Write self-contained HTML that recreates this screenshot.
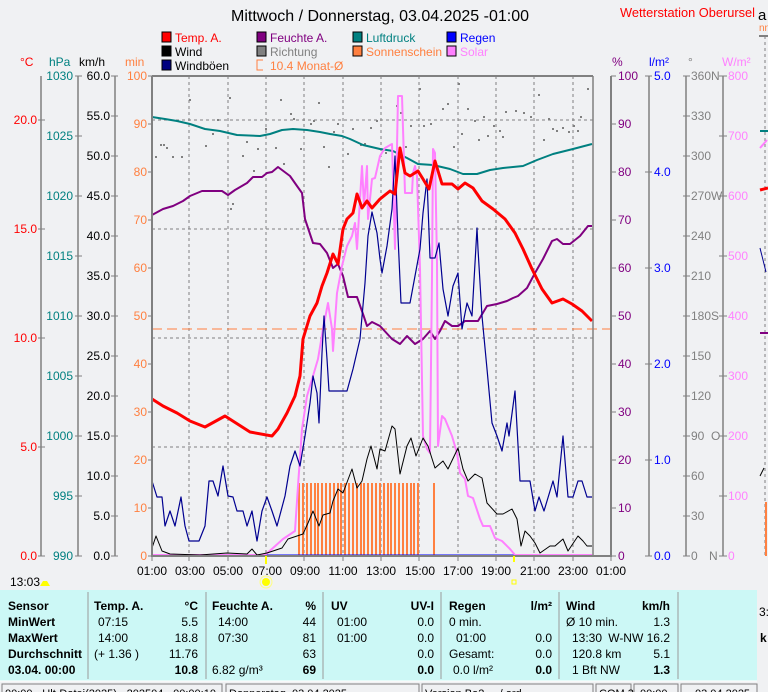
<!DOCTYPE html>
<html><head><meta charset="utf-8">
<style>
html,body{margin:0;padding:0;background:#f0f1f3;}
svg{display:block;font-family:"Liberation Sans",Arial,sans-serif;}
</style></head>
<body>
<svg width="768" height="692" viewBox="0 0 768 692" xmlns="http://www.w3.org/2000/svg">
<rect x="0" y="0" width="768" height="692" fill="#f0f1f3"/>

<!-- title -->
<text x="231" y="21" font-size="16" fill="#000" textLength="298" lengthAdjust="spacingAndGlyphs">Mittwoch / Donnerstag, 03.04.2025  -01:00</text>
<text x="620" y="17" font-size="13" fill="#ff0000" textLength="135" lengthAdjust="spacingAndGlyphs">Wetterstation Oberursel</text>
<text x="758" y="20" font-size="15" fill="#000">a</text>

<!-- legend -->
<g font-size="12">
<rect x="162" y="32" width="9" height="10" fill="#ff0000" stroke="#000"/><text x="175" y="42" fill="#ff0000">Temp. A.</text>
<rect x="257" y="32" width="9" height="10" fill="#800080" stroke="#000"/><text x="270" y="42" fill="#800080">Feuchte A.</text>
<rect x="353" y="32" width="9" height="10" fill="#008080" stroke="#000"/><text x="366" y="42" fill="#008080">Luftdruck</text>
<rect x="447" y="32" width="9" height="10" fill="#0000ff" stroke="#000"/><text x="460" y="42" fill="#0000ff">Regen</text>
<rect x="162" y="46" width="9" height="10" fill="#000" stroke="#000"/><text x="175" y="56" fill="#000">Wind</text>
<rect x="257" y="46" width="9" height="10" fill="#808080" stroke="#000"/><text x="270" y="56" fill="#808080">Richtung</text>
<rect x="353" y="46" width="9" height="10" fill="#ff8040" stroke="#000"/><text x="366" y="56" fill="#ff8040">Sonnenschein</text>
<rect x="447" y="46" width="9" height="10" fill="#ff80ff" stroke="#000"/><text x="460" y="56" fill="#ff80ff">Solar</text>
<rect x="162" y="60" width="9" height="10" fill="#000080" stroke="#000"/><text x="175" y="70" fill="#000">Windböen</text>
<path d="M263 60 H257 V70 H263" fill="none" stroke="#ff8040"/><text x="270" y="70" fill="#ff8040">10.4 Monat-Ø</text>
</g>

<!-- axis headers -->
<g font-size="12">
<text x="20" y="66" fill="#ff0000">°C</text>
<text x="49" y="66" fill="#008080">hPa</text>
<text x="79" y="66" fill="#000">km/h</text>
<text x="125" y="66" fill="#ff8040">min</text>
<text x="612" y="66" fill="#800080">%</text>
<text x="649" y="66" fill="#0000ff">l/m²</text>
<text x="688" y="66" fill="#808080">°</text>
<text x="722" y="66" fill="#ff80ff">W/m²</text>
</g>

<!-- left axes lines -->
<g stroke="#808080" stroke-width="1.5">
<line x1="41" y1="76" x2="41" y2="556"/>
<line x1="78" y1="76" x2="78" y2="556"/>
<line x1="115" y1="76" x2="115" y2="556"/>
<line x1="649" y1="76" x2="649" y2="556"/>
<line x1="686" y1="76" x2="686" y2="556"/>
<line x1="723" y1="76" x2="723" y2="556"/>
</g>
<!-- left ticks -->
<g stroke="#808080" stroke-width="1">
<path d="M38 120H45M38 229H45M38 338H45M38 447H45M38 556H45"/>
<path d="M75 76H82M75 136H82M75 196H82M75 256H82M75 316H82M75 376H82M75 436H82M75 496H82M75 556H82"/>
<path d="M111 76H118M111 116H118M111 156H118M111 196H118M111 236H118M111 276H118M111 316H118M111 356H118M111 396H118M111 436H118M111 476H118M111 516H118M111 556H118"/>
<path d="M148 76H152M148 124H152M148 172H152M148 220H152M148 268H152M148 316H152M148 364H152M148 412H152M148 460H152M148 508H152M148 556H152"/>
<path d="M611 76H616M611 124H616M611 172H616M611 220H616M611 268H616M611 316H616M611 364H616M611 412H616M611 460H616M611 508H616M611 556H616"/>
<path d="M645 76H652M645 172H652M645 268H652M645 364H652M645 460H652M645 556H652"/>
<path d="M683 76H690M683 116H690M683 156H690M683 196H690M683 236H690M683 276H690M683 316H690M683 356H690M683 396H690M683 436H690M683 476H690M683 516H690M683 556H690"/>
<path d="M719 76H727M719 136H727M719 196H727M719 256H727M719 316H727M719 376H727M719 436H727M719 496H727M719 556H727"/>
</g>
<!-- left labels -->
<g font-size="12" text-anchor="end">
<g fill="#ff0000"><text x="37" y="124">20.0</text><text x="37" y="233">15.0</text><text x="37" y="342">10.0</text><text x="37" y="451">5.0</text><text x="37" y="560">0.0</text></g>
<g fill="#008080"><text x="73" y="80">1030</text><text x="73" y="140">1025</text><text x="73" y="200">1020</text><text x="73" y="260">1015</text><text x="73" y="320">1010</text><text x="73" y="380">1005</text><text x="73" y="440">1000</text><text x="73" y="500">995</text><text x="73" y="560">990</text></g>
<g fill="#000"><text x="110" y="80">60.0</text><text x="110" y="120">55.0</text><text x="110" y="160">50.0</text><text x="110" y="200">45.0</text><text x="110" y="240">40.0</text><text x="110" y="280">35.0</text><text x="110" y="320">30.0</text><text x="110" y="360">25.0</text><text x="110" y="400">20.0</text><text x="110" y="440">15.0</text><text x="110" y="480">10.0</text><text x="110" y="520">5.0</text><text x="110" y="560">0.0</text></g>
<g fill="#ff8040"><text x="147" y="80">100</text><text x="147" y="128">90</text><text x="147" y="176">80</text><text x="147" y="224">70</text><text x="147" y="272">60</text><text x="147" y="320">50</text><text x="147" y="368">40</text><text x="147" y="416">30</text><text x="147" y="464">20</text><text x="147" y="512">10</text><text x="147" y="560">0</text></g>
</g>
<!-- right labels -->
<g font-size="12">
<g fill="#800080"><text x="618" y="80">100</text><text x="618" y="128">90</text><text x="618" y="176">80</text><text x="618" y="224">70</text><text x="618" y="272">60</text><text x="618" y="320">50</text><text x="618" y="368">40</text><text x="618" y="416">30</text><text x="618" y="464">20</text><text x="618" y="512">10</text><text x="618" y="560">0</text></g>
<g fill="#0000ff"><text x="654" y="80">5.0</text><text x="654" y="176">4.0</text><text x="654" y="272">3.0</text><text x="654" y="368">2.0</text><text x="654" y="464">1.0</text><text x="654" y="560">0.0</text></g>
<g fill="#808080"><text x="691" y="80">360</text><text x="691" y="120">330</text><text x="691" y="160">300</text><text x="691" y="200">270</text><text x="691" y="240">240</text><text x="691" y="280">210</text><text x="691" y="320">180</text><text x="691" y="360">150</text><text x="691" y="400">120</text><text x="691" y="440">90</text><text x="691" y="480">60</text><text x="691" y="520">30</text><text x="691" y="560">0</text>
<text x="711" y="80">N</text><text x="711" y="200">W</text><text x="711" y="320">S</text><text x="711" y="440">O</text><text x="709" y="560">N</text></g>
<g fill="#ff80ff"><text x="728" y="80">800</text><text x="728" y="140">700</text><text x="728" y="200">600</text><text x="728" y="260">500</text><text x="728" y="320">400</text><text x="728" y="380">300</text><text x="728" y="440">200</text><text x="728" y="500">100</text><text x="728" y="560">0</text></g>
</g>

<!-- grid -->
<g stroke="#808080" stroke-width="1" stroke-dasharray="3,3">
<path d="M189 76V556M228 76V556M266 76V556M304 76V556M343 76V556M381 76V556M419 76V556M458 76V556M496 76V556M534 76V556M573 76V556"/>
<path d="M152 120H593M152 229H593M152 338H593M152 447H593"/>
</g>
<line x1="152" y1="329" x2="611" y2="329" stroke="#ff8040" stroke-width="1" stroke-dasharray="10,5"/>

<!-- sunshine bars -->
<g fill="#ff8040">
<rect x="298" y="483" width="2" height="73"/><rect x="302" y="483" width="2" height="73"/><rect x="306" y="483" width="2" height="73"/><rect x="310" y="483" width="2" height="73"/><rect x="314" y="483" width="2" height="73"/><rect x="317" y="483" width="2" height="73"/><rect x="321" y="483" width="2" height="73"/><rect x="325" y="483" width="2" height="73"/><rect x="329" y="483" width="2" height="73"/><rect x="333" y="483" width="2" height="73"/><rect x="337" y="483" width="2" height="73"/><rect x="340" y="483" width="2" height="73"/><rect x="344" y="483" width="2" height="73"/><rect x="348" y="483" width="2" height="73"/><rect x="352" y="483" width="2" height="73"/><rect x="356" y="483" width="2" height="73"/><rect x="360" y="483" width="2" height="73"/><rect x="363" y="483" width="2" height="73"/><rect x="367" y="483" width="2" height="73"/><rect x="371" y="483" width="2" height="73"/><rect x="375" y="483" width="2" height="73"/><rect x="379" y="483" width="2" height="73"/><rect x="383" y="483" width="2" height="73"/><rect x="387" y="483" width="2" height="73"/><rect x="390" y="483" width="2" height="73"/><rect x="394" y="483" width="2" height="73"/><rect x="398" y="483" width="2" height="73"/><rect x="402" y="483" width="2" height="73"/><rect x="406" y="483" width="2" height="73"/><rect x="410" y="483" width="2" height="73"/><rect x="413" y="483" width="2" height="73"/><rect x="417" y="483" width="2" height="73"/><rect x="433" y="483" width="2" height="73"/>
</g>

<!-- direction dots -->
<g fill="#808080">
<rect x="155" y="156" width="2" height="2"/><rect x="160" y="144" width="2" height="2"/><rect x="163" y="144" width="2" height="2"/><rect x="166" y="147" width="2" height="2"/><rect x="172" y="156" width="2" height="2"/><rect x="181" y="156" width="2" height="2"/><rect x="189" y="99" width="2" height="2"/><rect x="205" y="145" width="2" height="2"/><rect x="212" y="133" width="2" height="2"/><rect x="217" y="119" width="2" height="2"/><rect x="229" y="97" width="2" height="2"/><rect x="230" y="208" width="2" height="2"/><rect x="232" y="203" width="2" height="2"/><rect x="242" y="155" width="2" height="2"/><rect x="246" y="141" width="2" height="2"/><rect x="253" y="170" width="2" height="2"/><rect x="257" y="148" width="2" height="2"/><rect x="265" y="128" width="2" height="2"/><rect x="275" y="147" width="2" height="2"/><rect x="280" y="99" width="2" height="2"/><rect x="283" y="163" width="2" height="2"/><rect x="290" y="113" width="2" height="2"/><rect x="293" y="118" width="2" height="2"/><rect x="300" y="148" width="2" height="2"/><rect x="310" y="123" width="2" height="2"/><rect x="313" y="120" width="2" height="2"/><rect x="318" y="102" width="2" height="2"/><rect x="323" y="146" width="2" height="2"/><rect x="328" y="166" width="2" height="2"/><rect x="333" y="131" width="2" height="2"/><rect x="337" y="123" width="2" height="2"/><rect x="347" y="153" width="2" height="2"/><rect x="352" y="128" width="2" height="2"/><rect x="360" y="144" width="2" height="2"/><rect x="364" y="143" width="2" height="2"/><rect x="370" y="127" width="2" height="2"/><rect x="376" y="120" width="2" height="2"/><rect x="385" y="152" width="2" height="2"/><rect x="396" y="105" width="2" height="2"/><rect x="400" y="112" width="2" height="2"/><rect x="405" y="146" width="2" height="2"/><rect x="410" y="125" width="2" height="2"/><rect x="419" y="88" width="2" height="2"/><rect x="423" y="125" width="2" height="2"/><rect x="430" y="123" width="2" height="2"/><rect x="442" y="108" width="2" height="2"/><rect x="447" y="103" width="2" height="2"/><rect x="453" y="146" width="2" height="2"/><rect x="458" y="83" width="2" height="2"/><rect x="461" y="133" width="2" height="2"/><rect x="467" y="108" width="2" height="2"/><rect x="474" y="120" width="2" height="2"/><rect x="478" y="139" width="2" height="2"/><rect x="483" y="116" width="2" height="2"/><rect x="487" y="135" width="2" height="2"/><rect x="493" y="125" width="2" height="2"/><rect x="499" y="130" width="2" height="2"/><rect x="502" y="136" width="2" height="2"/><rect x="505" y="111" width="2" height="2"/><rect x="515" y="110" width="2" height="2"/><rect x="523" y="112" width="2" height="2"/><rect x="530" y="116" width="2" height="2"/><rect x="538" y="94" width="2" height="2"/><rect x="543" y="139" width="2" height="2"/><rect x="548" y="118" width="2" height="2"/><rect x="552" y="128" width="2" height="2"/><rect x="556" y="130" width="2" height="2"/><rect x="562" y="127" width="2" height="2"/><rect x="568" y="131" width="2" height="2"/><rect x="573" y="125" width="2" height="2"/><rect x="577" y="130" width="2" height="2"/><rect x="580" y="116" width="2" height="2"/><rect x="587" y="88" width="2" height="2"/>
</g>

<g fill="none" stroke-linejoin="round">
<!-- pressure -->
<polyline stroke="#008080" stroke-width="2" points="152,117 165,119 177,121 190,124 205,129 220,131 237,135 260,136 270,134 282,130 293,129 307,130 320,132 330,134 342,136 350,139 363,145 380,149 393,151 407,158 418,164 433,165 450,169 463,174 477,174 490,170 503,168 523,166 537,160 553,154 573,149 592,144"/>
<!-- humidity -->
<polyline stroke="#800080" stroke-width="2" points="152,215 163,209 173,206 183,201 190,196 202,191 222,191 228,195 235,190 247,183 253,177 262,177 267,173 272,172 278,167 290,176 297,186 302,193 305,219 313,243 320,244 327,253 333,268 338,264 343,276 348,297 357,297 363,314 367,326 372,322 380,326 392,339 400,344 407,336 415,344 423,339 430,331 435,339 440,331 445,321 452,326 458,326 465,321 478,321 487,306 497,304 507,301 513,298 518,296 527,288 535,273 543,259 552,241 557,239 563,244 570,244 580,236 588,226 592,226"/>
<!-- rain -->
<line x1="152" y1="555" x2="592" y2="555" stroke="#0000ff" stroke-width="1"/>
<!-- solar -->
<polyline stroke="#ff80ff" stroke-width="2" points="152,555 265,555 273,548 283,539 295,531 298,486 302,429 307,396 313,376 318,359 323,329 328,303 332,329 333,351 337,293 342,266 347,246 352,236 355,223 357,249 362,166 364,206 367,166 368,219 372,179 375,178 380,156 385,148 392,144 395,249 398,96 402,96 405,193 412,193 413,173 415,166 417,176 420,269 423,436 427,449 430,453 432,276 433,149 435,153 437,263 438,446 442,416 445,419 452,436 457,453 460,473 465,479 468,496 473,498 480,519 483,526 490,526 495,538 502,541 510,549 515,555 592,555"/>
<!-- gusts -->
<polyline stroke="#000090" stroke-width="1.2" points="152,481 157,497 162,497 165,526 170,511 175,526 181,497 185,526 189,541 199,541 205,526 209,481 213,481 218,496 223,466 228,496 233,497 237,511 243,511 247,526 252,511 257,541 262,511 267,497 272,511 277,526 285,496 290,466 295,451 300,466 305,436 310,403 313,376 317,393 319,423 322,353 324,316 327,359 329,391 347,391 353,369 360,339 365,283 368,236 372,212 377,233 380,259 382,273 387,246 392,209 395,156 398,236 401,303 410,303 415,276 420,249 423,213 427,179 430,258 435,258 439,243 443,289 448,316 453,286 458,273 462,329 467,303 472,316 477,228 478,249 482,316 487,369 492,423 497,436 502,451 507,423 509,436 515,391 520,481 530,481 535,511 539,497 544,511 553,481 557,497 563,436 568,497 573,497 578,481 582,481 587,497 592,497"/>
<!-- wind -->
<polyline stroke="#000" stroke-width="1" points="152,548 156,536 162,551 170,554 200,555 227,553 247,554 252,549 257,555 267,553 282,548 288,539 297,536 303,534 308,523 313,511 319,526 323,515 330,513 333,501 338,489 343,493 352,469 357,488 362,481 367,459 371,446 377,469 380,449 385,451 392,426 395,429 400,474 407,446 411,438 416,456 423,438 428,446 435,468 443,461 448,469 458,448 463,469 468,481 475,474 482,478 487,503 497,514 503,514 512,509 517,519 521,546 525,531 530,536 535,543 540,553 550,546 555,546 563,539 568,551 578,536 583,541 587,546 592,546"/>
<!-- temperature -->
<polyline stroke="#ff0000" stroke-width="3" points="152,399 163,406 177,413 190,421 205,427 225,416 250,432 272,436 278,429 287,413 295,396 300,376 303,339 310,316 317,303 322,286 327,273 333,254 338,264 343,229 347,219 353,213 357,194 362,208 367,201 372,208 380,199 390,191 395,194 400,148 405,173 410,176 418,171 423,179 429,189 435,161 442,184 452,184 458,189 465,183 473,188 482,201 493,209 505,219 515,233 523,249 532,269 542,289 552,303 563,299 572,304 582,311 592,321"/>
</g>

<!-- plot frame -->
<g stroke="#808080" fill="none">
<line x1="152" y1="76" x2="593" y2="76" stroke-width="2"/>
<line x1="152" y1="76" x2="152" y2="557" stroke-width="2"/>
<line x1="593" y1="76" x2="593" y2="556" stroke-width="1.5"/>
<line x1="611" y1="76" x2="611" y2="557" stroke-width="2"/>
<line x1="152" y1="556" x2="611" y2="556" stroke-width="2"/>
<path d="M152 556V561M189 556V561M228 556V561M266 556V561M304 556V561M343 556V561M381 556V561M419 556V561M458 556V561M496 556V561M534 556V561M573 556V561M611 556V561" stroke-width="1"/>
</g>
<line x1="266" y1="556" x2="266" y2="564" stroke="#ffff00" stroke-width="2"/>
<line x1="514" y1="556" x2="514" y2="562" stroke="#ffff00" stroke-width="2"/>

<!-- x labels -->
<g font-size="12" fill="#000" text-anchor="middle">
<text x="152" y="575">01:00</text><text x="190" y="575">03:00</text><text x="228" y="575">05:00</text><text x="267" y="575">07:00</text><text x="305" y="575">09:00</text><text x="343" y="575">11:00</text><text x="381" y="575">13:00</text><text x="420" y="575">15:00</text><text x="458" y="575">17:00</text><text x="496" y="575">19:00</text><text x="535" y="575">21:00</text><text x="573" y="575">23:00</text><text x="611" y="575">01:00</text>
</g>
<text x="10" y="586" font-size="12" fill="#000">13:03</text>
<path d="M40 586 L43 581 L47 581 L50 586Z" fill="#ffff00"/>
<circle cx="266" cy="582" r="4" fill="#ffff00"/>
<circle cx="266" cy="582" r="6" fill="none" stroke="#ffff80" stroke-width="1"/>
<rect x="512" y="580" width="4" height="4" fill="none" stroke="#ffff00"/>

<!-- right partial strip -->
<line x1="759" y1="36" x2="768" y2="36" stroke="#808080" stroke-width="2"/>
<line x1="765" y1="36" x2="765" y2="556" stroke="#808080" stroke-dasharray="3,3"/>
<text x="759" y="31" font-size="10" fill="#ff8040">nn</text>
<line x1="760" y1="131" x2="768" y2="131" stroke="#008080" stroke-width="2"/>
<line x1="760" y1="148" x2="767" y2="140" stroke="#ff80ff" stroke-width="2"/>
<line x1="760" y1="190" x2="768" y2="188" stroke="#ff0000" stroke-width="3"/>
<line x1="760" y1="248" x2="766" y2="272" stroke="#000090"/>
<line x1="760" y1="333" x2="768" y2="333" stroke="#800080" stroke-width="2"/>
<line x1="760" y1="476" x2="764" y2="468" stroke="#000"/>
<line x1="766" y1="502" x2="766" y2="556" stroke="#ff8040" stroke-width="2"/>
<text x="759" y="616" font-size="12" fill="#000">3:</text>
<text x="760" y="642" font-size="12" font-weight="bold" fill="#000">k</text>

<!-- table -->
<rect x="0" y="590" width="757" height="91" fill="#ccf8f6"/>
<g stroke="#9a9a9a" stroke-width="1">
<path d="M88 592V679M206 592V679M323 592V679M441 592V679M559 592V679M678 592V679"/>
</g>
<line x1="0" y1="681" x2="757" y2="681" stroke="#ffffff"/>
<g font-size="12" fill="#000">
<g font-weight="bold">
<text x="8" y="610">Sensor</text><text x="8" y="626">MinWert</text><text x="8" y="642">MaxWert</text><text x="8" y="658">Durchschnitt</text><text x="8" y="674">03.04. 00:00</text>
<text x="94" y="610">Temp. A.</text><text x="212" y="610">Feuchte A.</text><text x="331" y="610">UV</text><text x="449" y="610">Regen</text><text x="566" y="610">Wind</text>
</g>
<g font-weight="bold" text-anchor="end">
<text x="198" y="610">°C</text><text x="316" y="610">%</text><text x="434" y="610">UV-I</text><text x="552" y="610">l/m²</text><text x="670" y="610">km/h</text>
<text x="198" y="674">10.8</text><text x="316" y="674">69</text><text x="434" y="674">0.0</text><text x="552" y="674">0.0</text><text x="670" y="674">1.3</text>
</g>
<text x="98" y="626">07:15</text><text x="98" y="642">14:00</text><text x="94" y="658">(+ 1.36 )</text>
<text x="218" y="626">14:00</text><text x="218" y="642">07:30</text><text x="212" y="674">6.82 g/m³</text>
<text x="337" y="626">01:00</text><text x="337" y="642">01:00</text>
<text x="449" y="626">0 min.</text><text x="456" y="642">01:00</text><text x="449" y="658">Gesamt:</text><text x="453" y="674">0.0 l/m²</text>
<text x="566" y="626">Ø 10 min.</text><text x="572" y="642">13:30</text><text x="572" y="658">120.8 km</text><text x="572" y="674">1 Bft NW</text>
<g text-anchor="end">
<text x="198" y="626">5.5</text><text x="198" y="642">18.8</text><text x="198" y="658">11.76</text>
<text x="316" y="626">44</text><text x="316" y="642">81</text><text x="316" y="658">63</text>
<text x="434" y="626">0.0</text><text x="434" y="642">0.0</text><text x="434" y="658">0.0</text>
<text x="552" y="642">0.0</text><text x="552" y="658">0.0</text>
<text x="670" y="626">1.3</text><text x="670" y="642">W-NW 16.2</text><text x="670" y="658">5.1</text>
</g>
</g>

<!-- status bar -->
<g fill="none" stroke="#808080">
<rect x="2" y="684" width="220" height="12"/><rect x="226" y="684" width="193" height="12"/><rect x="422" y="684" width="171" height="12"/><rect x="596" y="684" width="35" height="12"/><rect x="634" y="684" width="44" height="12"/><rect x="681" y="684" width="76" height="12"/>
</g>
<g font-size="11" fill="#000">
<text x="5" y="697">00:00 - Ult-Datei(2025) - 202504 - 00:00:10</text>
<text x="229" y="697">Donnerstag, 03.04.2025</text>
<text x="425" y="697">Version Ba2 ... /    ord</text>
<text x="599" y="697">COM 3</text>
<text x="640" y="697">00:00</text>
<text x="695" y="697">03.04.2025</text>
</g>
</svg>
</body></html>
